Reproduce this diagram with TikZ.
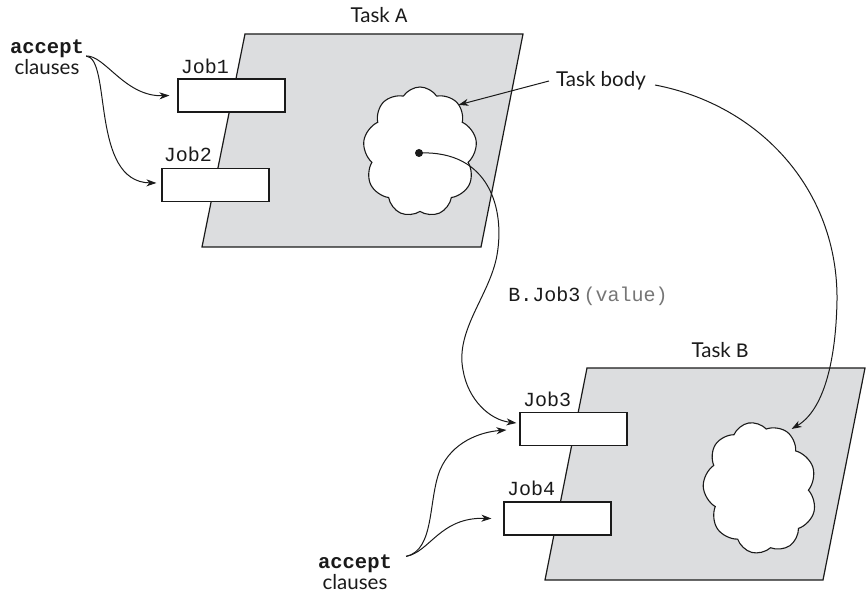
\documentclass[tikz,border=0pt]{standalone}
\usepackage{fontspec}
\setmainfont{Lato}
\setmonofont{Liberation Mono}
\usetikzlibrary{arrows.meta,shapes.symbols}
\definecolor{taskgray}{HTML}{DCDDDF}
\definecolor{ink}{HTML}{1A1A1A}
\begin{document}
\begin{tikzpicture}[x=1pt,y=-1pt,
  taskbox/.style={draw=ink,fill=taskgray,line width=1.2pt},
  jobbox/.style={draw=ink,fill=white,line width=1.1pt,minimum width=107pt,minimum height=33pt,inner sep=0pt},
  joblabel/.style={font=\fontsize{20}{23}\selectfont\ttfamily,text=ink,inner sep=1pt},
  lbl/.style={font=\fontsize{20.5}{24}\selectfont,text=ink,inner sep=1pt},
  accl/.style={font=\fontsize{20.5}{24}\selectfont,text=ink,align=center,inner sep=2pt},
  body/.style={cloud,cloud puffs=9,cloud puff arc=115,draw=ink,fill=white,line width=1.1pt,inner sep=0pt},
  conn/.style={draw=ink,line width=1pt,-{Stealth[length=10pt,width=7pt,inset=3pt]}}]
\useasboundingbox (0,0) rectangle (867,593);
% task A
\draw[taskbox] (245,34) -- (523,34) -- (481,247) -- (202,247) -- cycle;
\node[lbl] (taskA) at (379,15) {Task {\ttfamily A}};
\node[jobbox] (job1) at (231.5,95.5) {};
\node[jobbox] (job2) at (215.5,185) {};
\node[joblabel] (job1l) at (205,66) {Job1};
\node[joblabel] (job2l) at (188,154) {Job2};
\node[body,minimum width=114pt,minimum height=130pt] (cloudA) at (420,152) {};
\node[circle,fill=ink,inner sep=0pt,minimum size=8pt] (dot) at (419,153) {};
% task B
\draw[taskbox] (587,368) -- (865,368) -- (823,580) -- (545,580) -- cycle;
\node[lbl] (taskB) at (720,350) {Task {\ttfamily B}};
\node[jobbox] (job3) at (573.5,429) {};
\node[jobbox] (job4) at (557.5,518.5) {};
\node[joblabel] (job3l) at (547,399) {Job3};
\node[joblabel] (job4l) at (531,488) {Job4};
\node[body,minimum width=113pt,minimum height=132pt,rotate=10] (cloudB) at (760,488) {};
% labels
\node[accl] (acc1) at (47,57) {{\ttfamily\bfseries accept}\\[-3pt]clauses};
\node[accl] (acc2) at (355,572) {{\ttfamily\bfseries accept}\\[-3pt]clauses};
\node[lbl] (tbody) at (601,81) {Task body};
\node[joblabel] (call) at (588,296) {B.Job3\,{\color{ink!60}(value)}};
% connectors
\draw[conn] ([yshift=1pt]acc1.east) .. controls (105,55) and (125,97) .. ([xshift=-8pt]job1.west);
\draw[conn] ([yshift=1pt]acc1.east) .. controls (112,58) and (90,182) .. ([xshift=-5pt,yshift=2pt]job2.west);
\draw[conn] ([xshift=-6pt]tbody.west) -- ([xshift=-1pt]cloudA.50);
\draw[conn] ([xshift=8pt,yshift=-4pt]tbody.east) .. controls (760,105) and (838,190) .. (837,300) .. controls (836,360) and (824,410) .. ([shift={(5pt,2pt)}]cloudB.55);
\draw[conn] (dot.center) .. controls (490,150) and (505,210) .. (497,255) .. controls (490,295) and (455,330) .. (463,370) .. controls (468,400) and (490,420) .. ([xshift=-3pt,yshift=6pt]job3.west);
\draw[conn] ([xshift=12pt,yshift=-4pt]acc2.north east) .. controls (435,550) and (428,500) .. (440,470) .. controls (452,442) and (480,432) .. ([xshift=-13pt,yshift=-1pt]job3.west);
\draw[conn] ([xshift=12pt,yshift=-4pt]acc2.north east) .. controls (430,552) and (440,517) .. ([xshift=-12pt]job4.west);
\end{tikzpicture}
\end{document}
